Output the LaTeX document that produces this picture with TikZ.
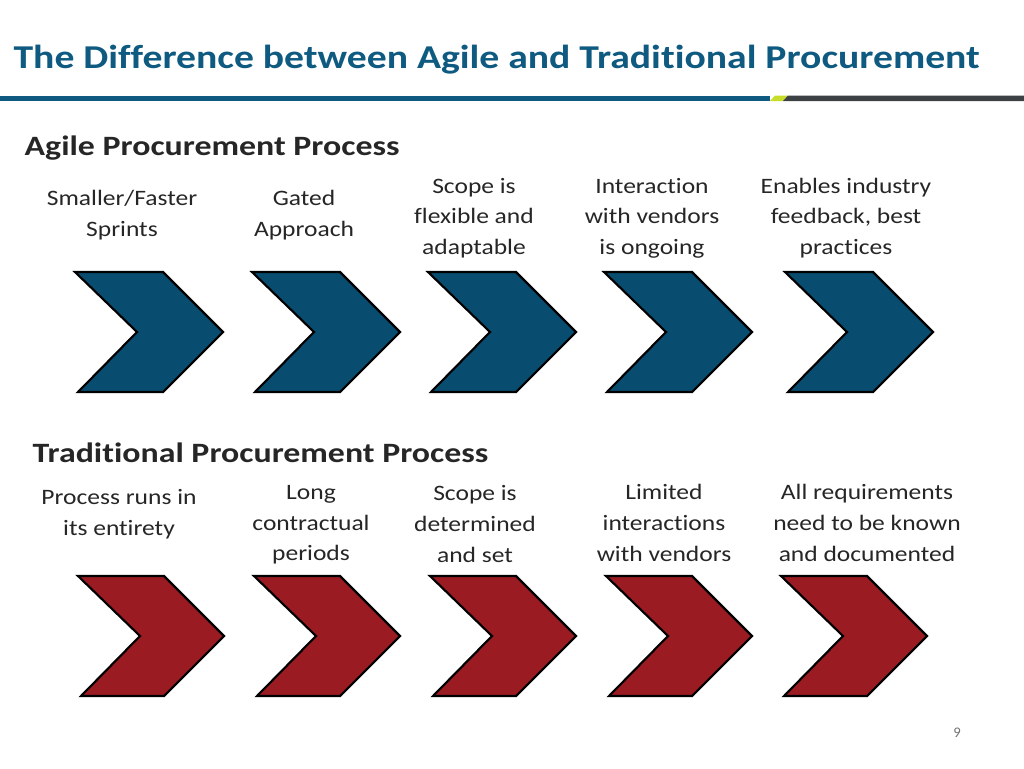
\documentclass[tikz,border=0pt]{standalone}
\usepackage{fontspec}
\setmainfont{Carlito}[RawFeature={-liga;-dlig;-clig}]
\definecolor{tblue}{HTML}{0E5A80}
\definecolor{cblue}{HTML}{084C70}
\definecolor{cred}{HTML}{9B1B23}
\definecolor{bgrey}{HTML}{3E4144}
\definecolor{byel}{HTML}{C8DC2A}
\begin{document}
\begin{tikzpicture}[x=0.75pt,y=-0.75pt,
  lbl/.style={align=center,font=\fontsize{16.5}{23}\selectfont,text=black!85,xscale=1.16,transform shape},
  head/.style={anchor=west,font=\bfseries\fontsize{21}{25}\selectfont,text=black!85,xscale=1.21,transform shape},
  chev/.style={draw=black,line width=1.6pt,line join=miter}]
\useasboundingbox (0,0) rectangle (1024,768);
\node[anchor=west,text=tblue,font=\bfseries\fontsize{25}{30}\selectfont,xscale=1.19,transform shape] (title) at (8,60) {The Difference between Agile and Traditional Procurement};
\fill[tblue] (0,95.5) rectangle (770,101);
\fill[byel] (770,101) -- (775,95.5) -- (788,95.5) -- (783,101) -- cycle;
\fill[bgrey] (783,101) -- (788,95.5) -- (1024,95.5) -- (1024,101) -- cycle;
\node[head] (ha) at (19,148) {Agile Procurement Process};
\node[head] (ht) at (27,453) {Traditional Procurement Process};
\foreach \x in {75,252,428,604,785}
  \draw[chev,fill=cblue] (\x,272) -- ++(88,0) -- ++(60,60) -- ++(-60,60) -- ++(-85,0) -- ++(59,-60) -- cycle;
\foreach \x in {78,254,430,606,781}
  \draw[chev,fill=cred] (\x,576) -- ++(86,0) -- ++(60,60) -- ++(-60,60) -- ++(-83,0) -- ++(59,-60) -- cycle;
\node[lbl] (a1) at (122,215) {Smaller/Faster\\Sprints};
\node[lbl] (a2) at (304,215) {Gated\\Approach};
\node[lbl] (a3) at (474,218) {Scope is\\flexible and\\adaptable};
\node[lbl] (a4) at (652,218) {Interaction\\with vendors\\is ongoing};
\node[lbl] (a5) at (846,218) {Enables industry\\feedback, best\\practices};
\node[lbl] (t1) at (119,514) {Process runs in\\its entirety};
\node[lbl] (t2) at (311,525) {Long\\contractual\\periods};
\node[lbl] (t3) at (475,524) {Scope is\\determined\\and set};
\node[lbl] (t4) at (664,523) {Limited\\interactions\\with vendors};
\node[lbl] (t5) at (867,523) {All requirements\\need to be known\\and documented};
\node[text=black!55,font=\fontsize{11}{13}\selectfont] (pg) at (957,733) {9};
\end{tikzpicture}
\end{document}
